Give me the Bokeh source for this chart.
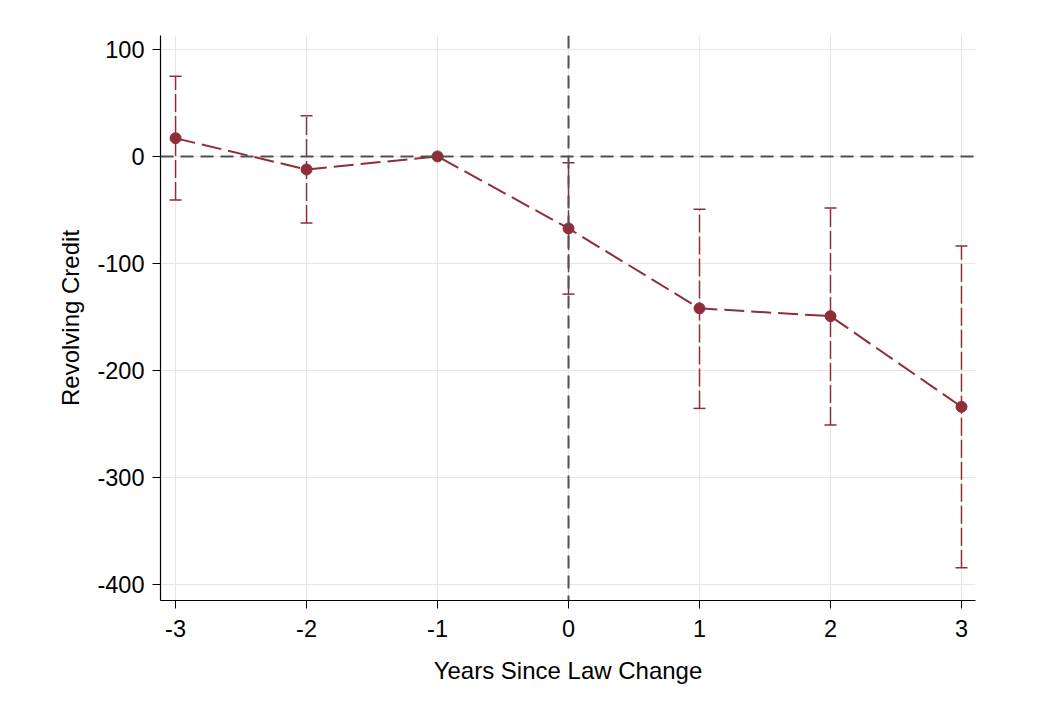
from bokeh.plotting import figure
from bokeh.models import ColumnDataSource, Whisker, TeeHead, Span, FixedTicker, Range1d
from bokeh.embed import file_html
from bokeh.resources import INLINE

years = [-3, -2, -1, 0, 1, 2, 3]
estimate = [17.0, -12.2, 0.0, -67.3, -142.0, -149.3, -234.0]
ci_upper = [75.0, 37.9, 0.0, -6.0, -49.3, -48.3, -83.8]
ci_lower = [-40.8, -62.3, 0.0, -128.7, -235.5, -251.1, -384.5]
x_ticks = [-3, -2, -1, 0, 1, 2, 3]
y_ticks = [100, 0, -100, -200, -300, -400]

RED = "#8f2d38"
REF = "#505050"
FONT = "Liberation Sans"

p = figure(width=1048, height=708, output_backend="svg", toolbar_location=None,
           x_range=Range1d(-3.115, 3.107), y_range=Range1d(-415, 113),
           min_border_left=160, min_border_right=73, min_border_top=35, min_border_bottom=108)
p.outline_line_color = None
p.background_fill_color = "white"
p.border_fill_color = "white"

p.xgrid.grid_line_color = "#e6e6e6"
p.ygrid.grid_line_color = "#e6e6e6"
p.xgrid.grid_line_width = 1
p.ygrid.grid_line_width = 1

for ax in (p.xaxis[0], p.yaxis[0]):
    ax.axis_line_color = "black"
    ax.axis_line_width = 1.2
    ax.major_tick_line_color = "black"
    ax.major_tick_out = 8
    ax.major_tick_in = 0
    ax.minor_tick_line_color = None
    ax.major_label_text_font = FONT
    ax.major_label_text_font_size = "23.5px"
    ax.major_label_text_color = "black"
    ax.axis_label_text_font = FONT
    ax.axis_label_text_font_size = "24px"
    ax.axis_label_text_font_style = "normal"
    ax.axis_label_text_color = "black"

p.xaxis.ticker = FixedTicker(ticks=x_ticks)
p.yaxis.ticker = FixedTicker(ticks=y_ticks)
p.xaxis.major_label_overrides = {t: str(t) for t in x_ticks}
p.yaxis.major_label_overrides = {t: str(t) for t in y_ticks}
p.xaxis.axis_label = "Years Since Law Change"
p.yaxis.axis_label = "Revolving Credit"
p.xaxis.major_label_standoff = 11
p.yaxis.major_label_standoff = 8
p.xaxis.axis_label_standoff = 17
p.yaxis.axis_label_standoff = 10

p.add_layout(Span(location=0, dimension="width", line_color=REF, line_width=2, line_dash="13 7"))
p.add_layout(Span(location=0, dimension="height", line_color=REF, line_width=2, line_dash="13 7"))

src = ColumnDataSource(dict(x=years, y=estimate, up=ci_upper, lo=ci_lower))

w = Whisker(source=src, base="x", upper="up", lower="lo", dimension="height",
            line_color=RED, line_width=1.5, line_dash="18 4",
            upper_head=TeeHead(size=12, line_color=RED, line_width=1.5),
            lower_head=TeeHead(size=12, line_color=RED, line_width=1.5))
p.add_layout(w)

p.line("x", "y", source=src, line_color=RED, line_width=2, line_dash="20 7")
p.scatter("x", "y", source=src, size=11, fill_color=RED, line_color=RED)

open("out.html", "w").write(file_html(p, INLINE))
